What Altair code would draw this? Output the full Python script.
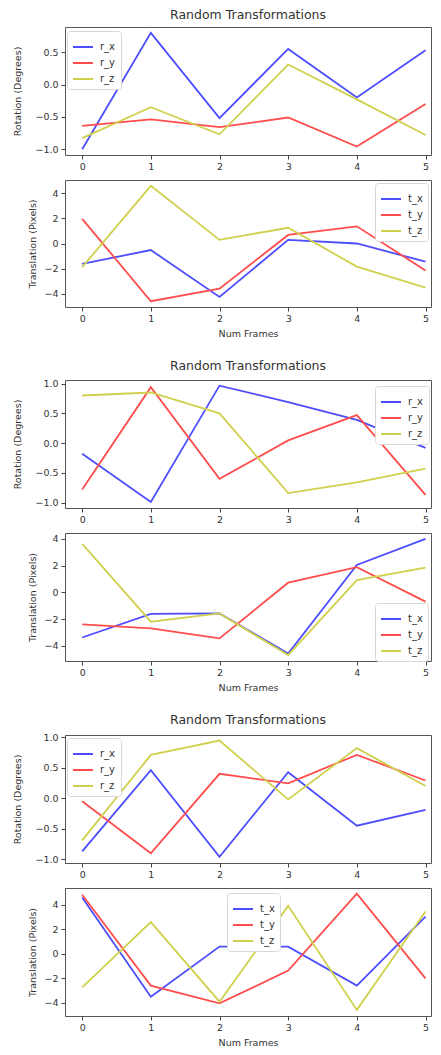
import altair as alt
import pandas as pd

frames = [0, 1, 2, 3, 4, 5]

rot_names = ["r_x", "r_y", "r_z"]
trans_names = ["t_x", "t_y", "t_z"]

rot1_x = [-1.0, 0.80, -0.52, 0.55, -0.20, 0.53]
rot1_y = [-0.64, -0.54, -0.66, -0.51, -0.96, -0.30]
rot1_z = [-0.83, -0.35, -0.77, 0.31, -0.23, -0.78]
trans1_x = [-1.62, -0.52, -4.24, 0.29, 0.0, -1.44]
trans1_y = [1.96, -4.58, -3.58, 0.68, 1.36, -2.14]
trans1_z = [-1.88, 4.58, 0.29, 1.25, -1.83, -3.5]

rot2_x = [-0.18, -0.99, 0.965, 0.69, 0.39, -0.08]
rot2_y = [-0.78, 0.94, -0.60, 0.045, 0.47, -0.87]
rot2_z = [0.80, 0.85, 0.50, -0.84, -0.66, -0.43]
trans2_x = [-3.38, -1.62, -1.58, -4.58, 2.05, 4.0]
trans2_y = [-2.4, -2.7, -3.45, 0.72, 1.88, -0.7]
trans2_z = [3.62, -2.2, -1.58, -4.7, 0.92, 1.85]

rot3_x = [-0.87, 0.46, -0.96, 0.425, -0.45, -0.19]
rot3_y = [-0.05, -0.90, 0.40, 0.245, 0.71, 0.29]
rot3_z = [-0.69, 0.71, 0.945, -0.02, 0.82, 0.20]
trans3_x = [4.59, -3.53, 0.57, 0.57, -2.62, 3.03]
trans3_y = [4.81, -2.62, -4.07, -1.39, 4.89, -2.02]
trans3_z = [-2.76, 2.57, -3.93, 3.9, -4.6, 3.44]

rot_ticks = [-1.0, -0.5, 0.0, 0.5, 1.0]
trans_ticks = [-4, -2, 0, 2, 4]

line_colors = ["#4d4dff", "#ff4d4d", "#d0d04d"]

FONT = "DejaVu Sans"
W = 366
XDOM = [-0.25, 5.08]


def panel(names, series, ydomain, yticks, yfmt, ytitle, tpad, height,
          lx, ly, title=None, xtitle=False):
    rows = []
    for name, vals in zip(names, series):
        for f, v in zip(frames, vals):
            rows.append({"frame": f, "value": v, "series": name})
    df = pd.DataFrame(rows)
    xaxis = alt.Axis(values=frames, format="d", labelPadding=2,
                     titlePadding=6)
    xscale = alt.Scale(domain=XDOM, nice=False, zero=False)
    if xtitle:
        xenc = alt.X("frame:Q", title="Num Frames", scale=xscale, axis=xaxis)
    else:
        xenc = alt.X("frame:Q", title=None, scale=xscale, axis=xaxis)
    ch = alt.Chart(df).mark_line(strokeWidth=1.8).encode(
        x=xenc,
        y=alt.Y("value:Q", title=ytitle,
                scale=alt.Scale(domain=ydomain, nice=False, zero=False),
                axis=alt.Axis(values=yticks, format=yfmt, titlePadding=tpad,
                              labelPadding=3)),
        color=alt.Color("series:N",
                        scale=alt.Scale(domain=names, range=line_colors),
                        legend=alt.Legend(title=None, orient="none",
                                          legendX=lx, legendY=ly,
                                          symbolType="stroke", symbolSize=400,
                                          symbolStrokeWidth=2,
                                          labelFontSize=10, labelFont=FONT,
                                          labelColor="#333", labelOffset=6,
                                          fillColor="white",
                                          strokeColor="#d8d8d8",
                                          cornerRadius=3, padding=5,
                                          rowPadding=0)),
        order="series:N",
    )
    if title:
        ch = ch.properties(width=W, height=height,
                           title=alt.TitleParams(title, font=FONT, fontSize=12.5,
                                                 fontWeight="normal",
                                                 color="#333", offset=6))
    else:
        ch = ch.properties(width=W, height=height)
    return ch


def spacer(h):
    return alt.Chart(pd.DataFrame({"a": [0]})).mark_point(opacity=0).encode(
        x=alt.X("a:Q", axis=None), y=alt.Y("a:Q", axis=None)
    ).properties(width=W, height=h, view=alt.ViewBackground(stroke="transparent"))


p1 = panel(rot_names, [rot1_x, rot1_y, rot1_z], [-1.09, 0.89], rot_ticks, ".1f",
           "Rotation (Degrees)", 12, 128, 2, 4, title="Random Transformations")
p2 = panel(trans_names, [trans1_x, trans1_y, trans1_z], [-5.04, 5.04], trans_ticks, "d",
           "Translation (Pixels)", 6, 127, 310, 3, xtitle=True)
p3 = panel(rot_names, [rot2_x, rot2_y, rot2_z], [-1.09, 1.06], rot_ticks, ".1f",
           "Rotation (Degrees)", 12, 128, 310, 6, title="Random Transformations")
p4 = panel(trans_names, [trans2_x, trans2_y, trans2_z], [-5.14, 4.44], trans_ticks, "d",
           "Translation (Pixels)", 6, 128, 310, 70, xtitle=True)
p5 = panel(rot_names, [rot3_x, rot3_y, rot3_z], [-1.06, 1.035], rot_ticks, ".1f",
           "Rotation (Degrees)", 12, 128, 2, 3, title="Random Transformations")
p6 = panel(trans_names, [trans3_x, trans3_y, trans3_z], [-5.1, 5.36], trans_ticks, "d",
           "Translation (Pixels)", 6, 128, 162, 5, xtitle=True)

chart = alt.vconcat(
    p1, p2, spacer(23), p3, p4, spacer(24), p5, p6,
    spacing=25, bounds="flush",
).resolve_scale(color="independent").resolve_legend(color="independent").properties(
    padding={"left": 4, "top": 0, "right": 0, "bottom": 0}
).configure_view(
    stroke="#555", strokeWidth=1
).configure_axis(
    labelFont=FONT, titleFont=FONT, labelColor="#333", titleColor="#333",
    tickColor="#444", domain=False, grid=False, labelFontSize=9.5,
    titleFontSize=9.5, titleFontWeight="normal", tickSize=4,
)

chart.save("out.html", embed_options={"renderer": "svg", "actions": False})
